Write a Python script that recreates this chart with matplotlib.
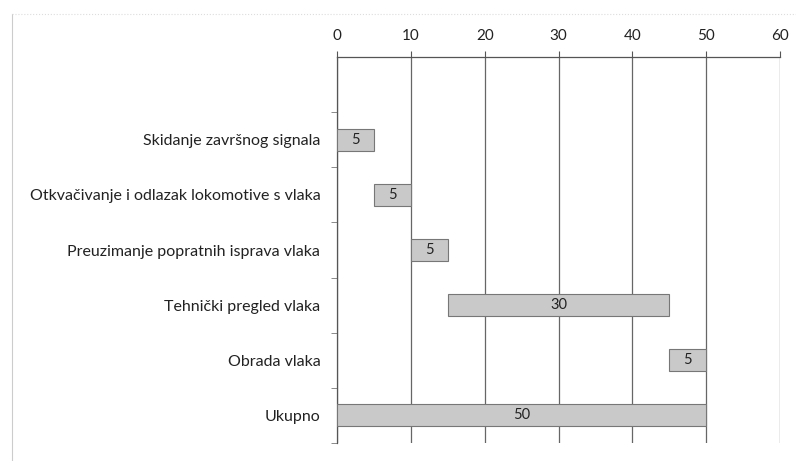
import numpy as np
import matplotlib
matplotlib.use("Agg")
from matplotlib import pyplot as plt

# task names (top slot is empty in the original chart)
tasks = ['', 'Skidanje završnog signala', 'Otkvačivanje i odlazak lokomotive s vlaka',
         'Preuzimanje popratnih isprava vlaka', 'Tehnički pregled vlaka',
         'Obrada vlaka', 'Ukupno']
starts = [0, 0, 5, 10, 15, 45, 0]
durations = [0, 5, 5, 5, 30, 5, 50]
xticks = [0, 10, 20, 30, 40, 50, 60]

plt.rcParams['font.family'] = ['Lato', 'DejaVu Sans']

fig = plt.figure(figsize=(7.96, 4.61), dpi=100)
ax = fig.add_axes([0.4234, 0.039, 0.5566, 0.8374])

y = np.arange(len(tasks))
for i in range(len(tasks)):
    if durations[i] == 0:
        continue
    ax.barh(y[i], durations[i], left=starts[i], height=0.4,
            color='#c9c9c9', edgecolor='#777777', linewidth=0.8, zorder=3)
    ax.text(starts[i] + durations[i] / 2, y[i], str(durations[i]),
            ha='center', va='center', fontsize=10.5, color='#222222', zorder=4)

ax.set_xlim(0, 60)
ax.set_ylim(len(tasks) - 0.5, -0.5)
ax.xaxis.tick_top()
ax.set_xticks(xticks)
ax.set_xticklabels([str(t) for t in xticks], fontsize=11, color='#222222')
ax.tick_params(axis='x', length=4, color='#555555', pad=6)

ax.set_yticks(y)
ax.set_yticklabels(tasks, fontsize=11.5, color='#222222')
ax.set_yticks(np.arange(len(tasks)) + 0.5, minor=True)
ax.tick_params(axis='y', which='major', length=0, pad=12)
ax.tick_params(axis='y', which='minor', length=4, color='#777777')

ax.grid(axis='x', color='#666666', linewidth=0.9, zorder=0)
for side in ['right', 'bottom']:
    ax.spines[side].set_visible(False)
for side in ['top', 'left']:
    ax.spines[side].set_color('#555555')
    ax.spines[side].set_linewidth(0.9)

# faint page border from the scanned original
fig.add_artist(plt.Line2D([0.015, 0.015], [0.0, 0.97], color='#cccccc', linewidth=0.8))
fig.add_artist(plt.Line2D([0.015, 1.0], [0.97, 0.97], color='#dddddd', linewidth=0.8, linestyle=':'))

plt.savefig('out.png', dpi=100)
